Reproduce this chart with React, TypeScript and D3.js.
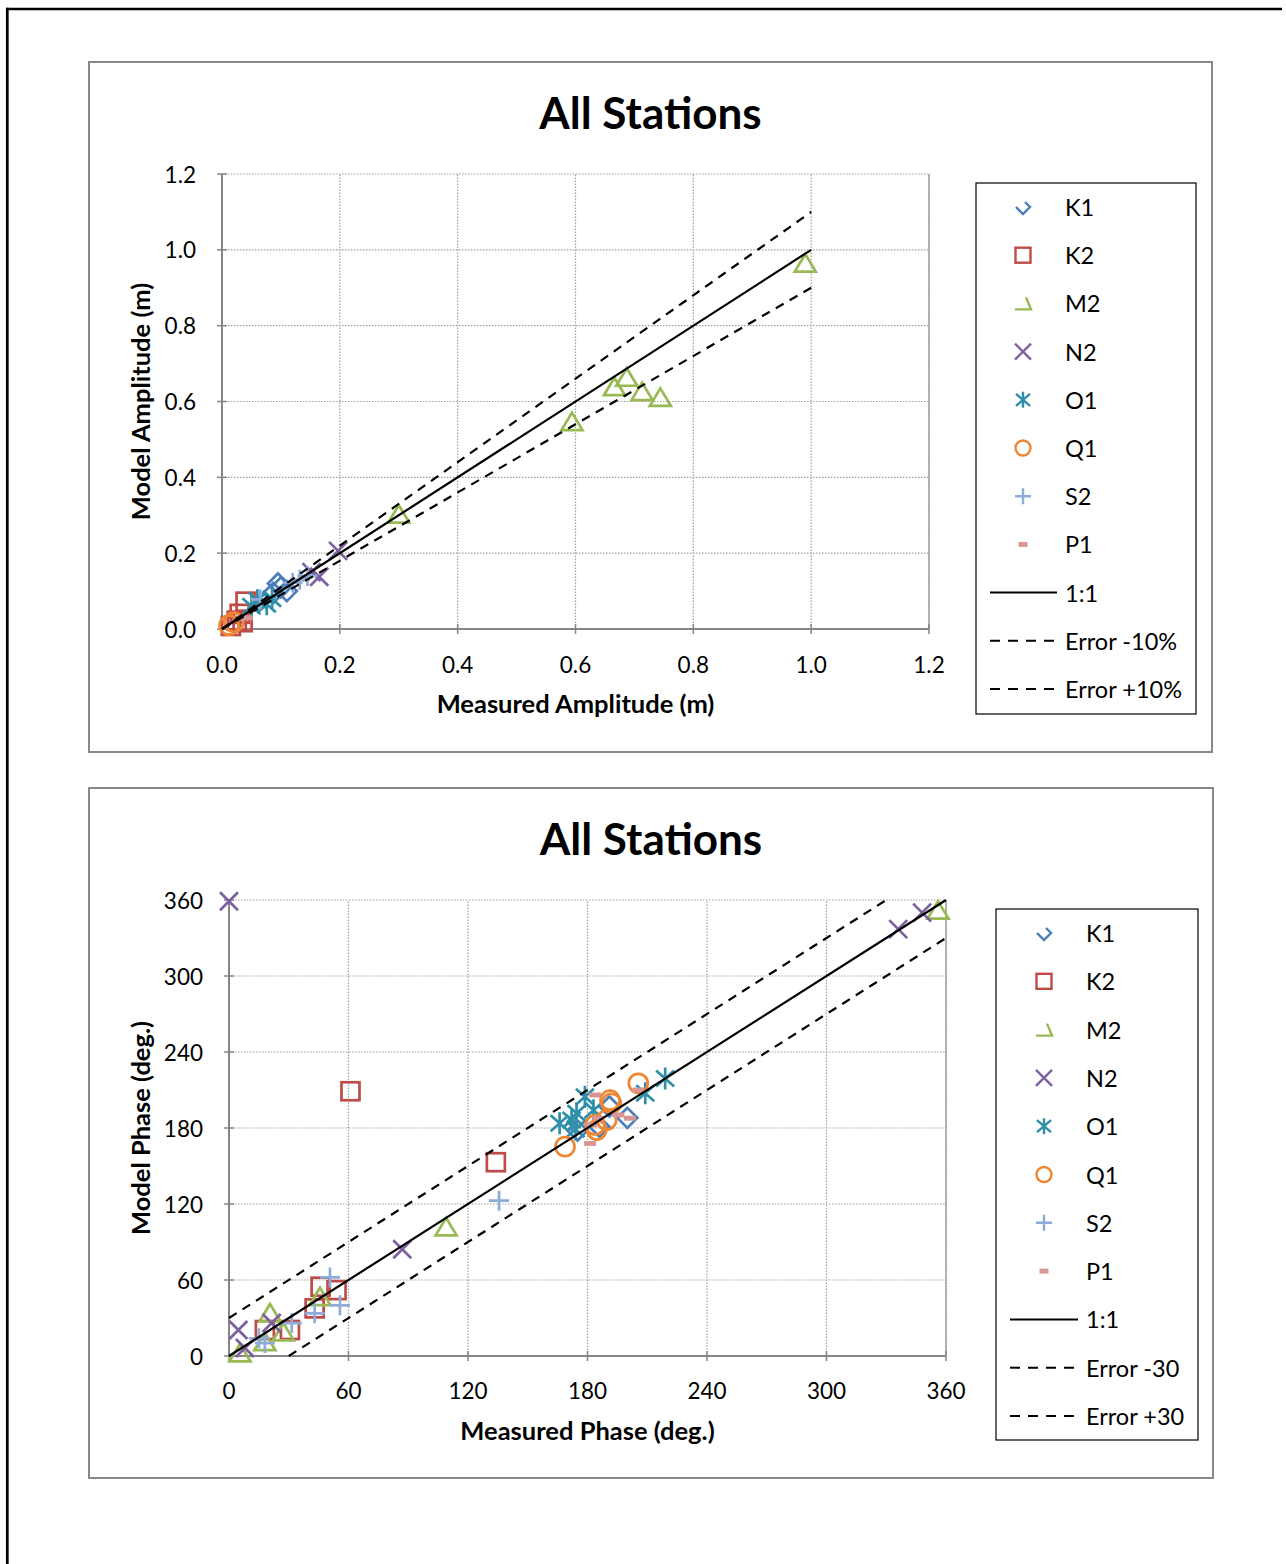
import React from "react";
import * as d3 from "d3";

// ---------- DATA ----------
const seriesNames = ["K1", "K2", "M2", "N2", "O1", "Q1", "S2", "P1"];
const seriesColors = ["#4a7ebb", "#be4b48", "#98b954", "#7d60a0", "#2f8fa8", "#ee8633", "#8eabd9", "#d99694"];

// Amplitude: [measured, model] (m)
const ampK1 = [[0.095, 0.12], [0.11, 0.1], [0.087, 0.095], [0.1, 0.11]];
const ampK2 = [[0.04, 0.072], [0.03, 0.04], [0.035, 0.018], [0.015, 0.008], [0.025, 0.022]];
const ampM2 = [[0.99, 0.965], [0.594, 0.547], [0.666, 0.639], [0.687, 0.664], [0.713, 0.626], [0.744, 0.611], [0.3, 0.303]];
const ampN2 = [[0.197, 0.206], [0.152, 0.15], [0.165, 0.138]];
const ampO1 = [[0.06, 0.076], [0.076, 0.065], [0.05, 0.06], [0.085, 0.08]];
const ampQ1 = [[0.012, 0.01], [0.02, 0.018]];
const ampS2 = [[0.132, 0.13], [0.12, 0.122], [0.145, 0.14], [0.065, 0.078]];
const ampP1 = [[0.036, 0.029], [0.042, 0.03]];

// Phase: [measured, model] (deg.)
const phK1 = [[191, 197], [200, 188], [175, 178], [186, 181]];
const phK2 = [[61, 209], [134, 153], [18, 20.5], [30.6, 20.5], [43, 37.6], [46, 54.7], [54, 52]];
const phM2 = [[356, 352], [109, 102], [5.5, 2.4], [20.6, 34], [18, 11.3], [27.3, 19], [45.7, 46.8]];
const phN2 = [[0, 359], [336, 337], [348, 350], [87, 84.3], [4.7, 20.5], [8, 6.3], [21.4, 26]];
const phO1 = [[166, 183.7], [172, 186.3], [174.5, 191.6], [178.7, 204.7], [183, 194], [209, 207.4], [219, 219], [174, 179]];
const phQ1 = [[168.7, 165.3], [205.5, 215.3], [191.3, 202], [192, 199.5], [183.8, 182.4], [189.6, 186.3], [184.6, 178.4]];
const phS2 = [[135.6, 122.6], [50.7, 62], [55.7, 40], [43, 33.7], [31.5, 26], [18, 10.2], [15, 14]];
const phP1 = [[183.8, 206], [185.4, 187.6], [195.5, 190.3], [201.3, 187.6], [181.3, 167.8], [205.5, 210], [182, 182.4]];

// Reference lines
const ampLine11 = [[0, 0], [1, 1]];
const ampLineLo = [[0, 0], [1, 0.9]];
const ampLineHi = [[0, 0], [1, 1.1]];
const phLine11 = [[0, 0], [360, 360]];
const phLineLo = [[30, 0], [360, 330]];
const phLineHi = [[0, 30], [330, 360]];

const ampTicks = [0, 0.2, 0.4, 0.6, 0.8, 1.0, 1.2];
const phTicks = [0, 60, 120, 180, 240, 300, 360];

const ampLegendLines = ["1:1", "Error -10%", "Error +10%"];
const phLegendLines = ["1:1", "Error -30", "Error +30"];

const FONT = "Lato, 'Open Sans', sans-serif";

// ---------- MARKERS ----------
function Marker({ kind, color, x, y }: any) {
  const sw = 2.7;
  const common = { fill: "none", stroke: color, strokeWidth: sw };
  const t = `translate(${x},${y})`;
  switch (kind) {
    case 0:
      return <path transform={t} d="M0,-10L10,0L0,10L-10,0Z" {...common} />;
    case 1:
      return <rect transform={t} x={-9} y={-9} width={18} height={18} {...common} />;
    case 2:
      return <path transform={t} d="M0,-9L10.5,8.5L-10.5,8.5Z" {...common} />;
    case 3:
      return <path transform={t} d="M-9,-9L9,9M-9,9L9,-9" {...common} />;
    case 4:
      return <path transform={t} d="M-9,-8L9,8M-9,8L9,-8M0,-11V11" {...common} />;
    case 5:
      return <circle transform={t} r={9.5} {...common} />;
    case 6:
      return <path transform={t} d="M-10,0H10M0,-10V10" {...common} />;
    default:
      return <rect transform={t} x={-6} y={-2.5} width={12} height={5} rx={1} fill={color} />;
  }
}

function LegendMarker({ kind, color, x, y }: any) {
  const common = { fill: "none", stroke: color, strokeWidth: 2.4 };
  const t = `translate(${x},${y})`;
  switch (kind) {
    case 0:
      return <path transform={t} d="M-7,0L0,7L7,0L2,-5" {...common} />;
    case 1:
      return <rect transform={t} x={-7.5} y={-7.5} width={15} height={15} {...common} />;
    case 2:
      return <path transform={t} d="M-8,6H8L3,-6" {...common} />;
    case 3:
      return <path transform={t} d="M-8,-8L8,8M-8,8L8,-8" {...common} />;
    case 4:
      return <path transform={t} d="M-7,-6L7,6M-7,6L7,-6M0,-8V8" {...common} />;
    case 5:
      return <circle transform={t} r={7.5} {...common} />;
    case 6:
      return <path transform={t} d="M-8,0H8M0,-8V8" {...common} />;
    default:
      return <rect transform={t} x={-4.5} y={-2.5} width={9} height={5} fill={color} />;
  }
}

// ---------- CHART ----------
function Chart(props: any) {
  const { frame, plot, domain, ticks, fmt, xTitle, yTitle, series, lines, legend, legendLines, tickGapY, tickGapX } = props;
  const x = d3.scaleLinear().domain(domain).range([plot.x0, plot.x1]);
  const y = d3.scaleLinear().domain(domain).range([plot.y0, plot.y1]);
  const line = d3.line<number[]>().x((d) => x(d[0])).y((d) => y(d[1]));
  const cx = (frame.x0 + frame.x1) / 2;
  return (
    <g>
      <rect x={frame.x0} y={frame.y0} width={frame.x1 - frame.x0} height={frame.y1 - frame.y0} fill="#fff" stroke="#888" strokeWidth={2} />
      <text x={cx} y={frame.y0 + 50} textAnchor="middle" dominantBaseline="central" fontFamily={FONT} fontWeight="bold" fontSize={44}>All Stations</text>
      {/* gridlines */}
      {ticks.map((t: number, i: number) => (
        <g key={"g" + i}>
          <line x1={plot.x0} x2={plot.x1} y1={y(t)} y2={y(t)} stroke="#a0a0a0" strokeWidth={1.2} strokeDasharray="1.5,1.5" />
          <line x1={x(t)} x2={x(t)} y1={plot.y0} y2={plot.y1} stroke="#a0a0a0" strokeWidth={1.2} strokeDasharray="1.5,1.5" />
        </g>
      ))}
      {/* plot border right */}
      <line x1={plot.x1} x2={plot.x1} y1={plot.y1} y2={plot.y0} stroke="#a0a0a0" strokeWidth={1.5} />
      {/* axes */}
      <line x1={plot.x0} x2={plot.x0} y1={plot.y1} y2={plot.y0} stroke="#868686" strokeWidth={2} />
      <line x1={plot.x0} x2={plot.x1} y1={plot.y0} y2={plot.y0} stroke="#868686" strokeWidth={2} />
      {ticks.map((t: number, i: number) => (
        <g key={"t" + i}>
          <line x1={plot.x0 - 5} x2={plot.x0 + 5} y1={y(t)} y2={y(t)} stroke="#868686" strokeWidth={1.5} />
          <line x1={x(t)} x2={x(t)} y1={plot.y0 - 5} y2={plot.y0 + 5} stroke="#868686" strokeWidth={1.5} />
          <text x={plot.x0 - tickGapY} y={y(t)} textAnchor="end" dominantBaseline="central" fontFamily={FONT} fontSize={22.5}>{fmt(t)}</text>
          <text x={x(t)} y={plot.y0 + tickGapX} textAnchor="middle" dominantBaseline="central" fontFamily={FONT} fontSize={22.5}>{fmt(t)}</text>
        </g>
      ))}
      <text x={(plot.x0 + plot.x1) / 2} y={plot.y0 + 74} textAnchor="middle" dominantBaseline="central" fontFamily={FONT} fontWeight="bold" fontSize={25.5}>{xTitle}</text>
      <text transform={`translate(140,${(plot.y0 + plot.y1) / 2}) rotate(-90)`} textAnchor="middle" dominantBaseline="central" fontFamily={FONT} fontWeight="bold" fontSize={25.5}>{yTitle}</text>
      {/* markers */}
      {series.map((pts: number[][], si: number) => (
        <g key={"s" + si}>
          {pts.map((p, pi) => (
            <Marker key={pi} kind={si} color={seriesColors[si]} x={x(p[0])} y={y(p[1])} />
          ))}
        </g>
      ))}
      {/* reference lines */}
      <path d={line(lines[0] as any) || ""} fill="none" stroke="#000" strokeWidth={2.2} />
      <path d={line(lines[1] as any) || ""} fill="none" stroke="#000" strokeWidth={2.2} strokeDasharray="9,7" />
      <path d={line(lines[2] as any) || ""} fill="none" stroke="#000" strokeWidth={2.2} strokeDasharray="9,7" />
      {/* legend */}
      <rect x={legend.x0} y={legend.y0} width={legend.x1 - legend.x0} height={legend.y1 - legend.y0} fill="#fff" stroke="#000" strokeWidth={1.2} />
      {seriesNames.map((n, i) => (
        <g key={"l" + i}>
          <LegendMarker kind={i} color={seriesColors[i]} x={legend.mx} y={legend.ey0 + i * legend.step} />
          <text x={legend.tx} y={legend.ey0 + i * legend.step} dominantBaseline="central" fontFamily={FONT} fontSize={23.5}>{n}</text>
        </g>
      ))}
      {legendLines.map((n: string, j: number) => {
        const yy = legend.ey0 + (8 + j) * legend.step;
        return (
          <g key={"ll" + j}>
            <line x1={legend.lx0} x2={legend.lx1} y1={yy} y2={yy} stroke="#000" strokeWidth={2} strokeDasharray={j === 0 ? undefined : "10,8"} />
            <text x={legend.tx} y={yy} dominantBaseline="central" fontFamily={FONT} fontSize={23.5}>{n}</text>
          </g>
        );
      })}
    </g>
  );
}

export default function App() {
  const fmtAmp = (v: number) => d3.format(".1f")(v);
  const fmtPh = (v: number) => d3.format("d")(v);
  return (
    <svg width={1286} height={1564} style={{ position: "absolute", left: 0, top: 0, background: "#fff" }}>
      <rect x={0} y={0} width={1286} height={1564} fill="#fff" />
      <line x1={7.3} x2={7.3} y1={7.7} y2={1564} stroke="#000" strokeWidth={2.7} />
      <line x1={6} x2={1282} y1={9} y2={9} stroke="#000" strokeWidth={2.7} />
      <Chart
        frame={{ x0: 89, x1: 1212, y0: 62, y1: 752 }}
        plot={{ x0: 222, x1: 929, y0: 629, y1: 174 }}
        domain={[0, 1.2]}
        ticks={ampTicks}
        fmt={fmtAmp}
        tickGapY={26}
        tickGapX={35}
        xTitle="Measured Amplitude (m)"
        yTitle="Model Amplitude (m)"
        series={[ampK1, ampK2, ampM2, ampN2, ampO1, ampQ1, ampS2, ampP1]}
        lines={[ampLine11, ampLineLo, ampLineHi]}
        legend={{ x0: 976, x1: 1196, y0: 183, y1: 714, mx: 1023, tx: 1065, lx0: 990, lx1: 1057, ey0: 207, step: 48.2 }}
        legendLines={ampLegendLines}
      />
      <Chart
        frame={{ x0: 89, x1: 1213, y0: 788, y1: 1478 }}
        plot={{ x0: 229, x1: 946, y0: 1356, y1: 900 }}
        domain={[0, 360]}
        ticks={phTicks}
        fmt={fmtPh}
        tickGapY={26}
        tickGapX={34}
        xTitle="Measured Phase (deg.)"
        yTitle="Model Phase (deg.)"
        series={[phK1, phK2, phM2, phN2, phO1, phQ1, phS2, phP1]}
        lines={[phLine11, phLineLo, phLineHi]}
        legend={{ x0: 996, x1: 1198, y0: 909, y1: 1440, mx: 1044, tx: 1086, lx0: 1010, lx1: 1078, ey0: 933, step: 48.3 }}
        legendLines={phLegendLines}
      />
    </svg>
  );
}
